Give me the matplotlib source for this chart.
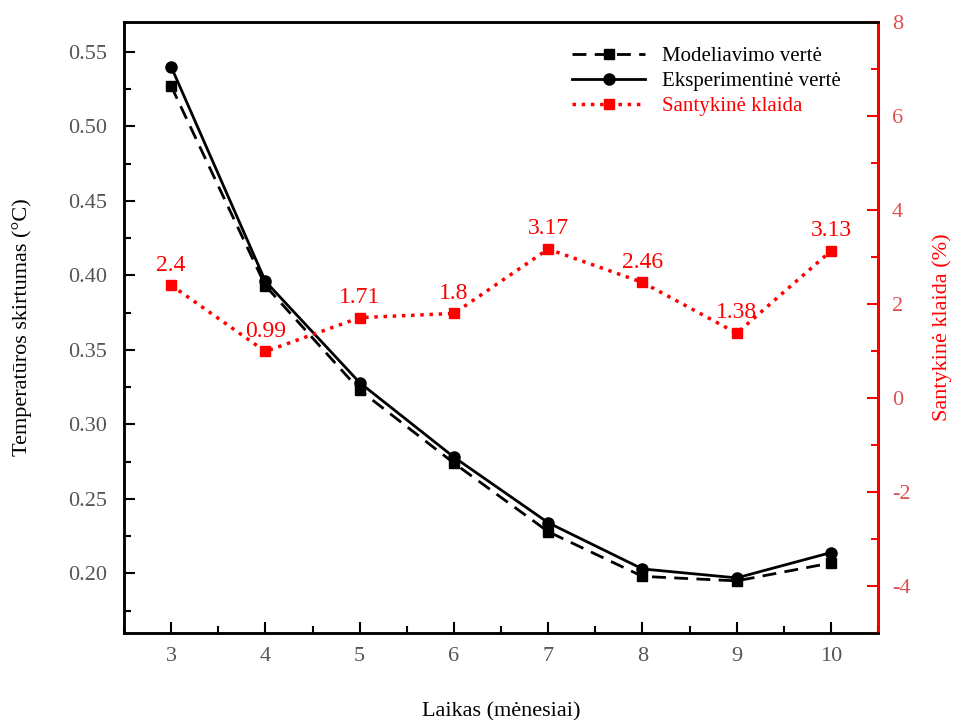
import numpy as np
import matplotlib.pyplot as plt
from matplotlib.ticker import MultipleLocator

plt.rcParams['font.family'] = ['Liberation Serif', 'DejaVu Serif']
plt.rcParams['axes.unicode_minus'] = False

months = [3, 4, 5, 6, 7, 8, 9, 10]
modelled = [0.527, 0.393, 0.323, 0.274, 0.228, 0.198, 0.195, 0.207]
measured = [0.540, 0.396, 0.328, 0.278, 0.234, 0.203, 0.197, 0.214]
rel_error = [2.4, 0.99, 1.71, 1.8, 3.17, 2.46, 1.38, 3.13]
err_labels = ['2.4', '0.99', '1.71', '1.8', '3.17', '2.46', '1.38', '3.13']

fig = plt.figure(figsize=(9.57, 7.2), dpi=100)
ax = fig.add_axes([0.1296, 0.1208, 0.788, 0.8486])
ax2 = ax.twinx()

l1, = ax.plot(months, modelled, color='black', ls=(0, (5, 3)), lw=2,
              marker='s', ms=7, label='Modeliavimo vertė')
l2, = ax.plot(months, measured, color='black', ls='-', lw=2,
              marker='o', ms=8, label='Eksperimentinė vertė')
l3, = ax2.plot(months, rel_error, color='red', ls=':', lw=2.5,
               marker='s', ms=7, label='Santykinė klaida')

for x, y, s in zip(months, rel_error, err_labels):
    ax2.annotate(s, (x, y), xytext=(0, 7), textcoords='offset points',
                 ha='center', va='bottom', color='red', fontsize=17)

ax.set_xlim(2.5, 10.5)
ax.set_ylim(0.16, 0.57)
ax2.set_ylim(-5, 8)

ax.xaxis.set_major_locator(MultipleLocator(1))
ax.xaxis.set_minor_locator(MultipleLocator(0.5))
ax.yaxis.set_major_locator(MultipleLocator(0.05))
ax.yaxis.set_minor_locator(MultipleLocator(0.025))
ax2.yaxis.set_major_locator(MultipleLocator(2))
ax2.yaxis.set_minor_locator(MultipleLocator(1))
ax.yaxis.set_major_formatter(plt.FormatStrFormatter('%.2f'))

ax.tick_params(which='both', direction='in', labelsize=16, labelcolor='#555555', width=1.5, top=False)
ax.tick_params(which='major', length=8)
ax.tick_params(which='minor', length=5)
ax.tick_params(axis='x', pad=10)
ax.tick_params(axis='y', pad=12)
ax2.tick_params(which='both', direction='in', labelsize=16, color='red', labelcolor='#e05050', width=1.5, pad=10)
ax2.tick_params(which='major', length=8)
ax2.tick_params(which='minor', length=5)

for sp in ax.spines.values():
    sp.set_linewidth(1.8)
for sp in ax2.spines.values():
    sp.set_linewidth(1.8)
ax2.spines['right'].set_color('red')

ax.set_xlabel('Laikas (mėnesiai)', fontsize=16, labelpad=26)
ax.set_ylabel('Temperatūros skirtumas (°C)', fontsize=16, labelpad=26)
ax2.set_ylabel('Santykinė klaida (%)', fontsize=16, color='red', labelpad=16)

leg = ax.legend(handles=[l1, l2, l3], loc='upper right', bbox_to_anchor=(0.975, 0.99),
                frameon=False, fontsize=15, handlelength=3.5, labelspacing=0.25)
leg.get_texts()[2].set_color('red')

fig.savefig('out.png', dpi=100)
